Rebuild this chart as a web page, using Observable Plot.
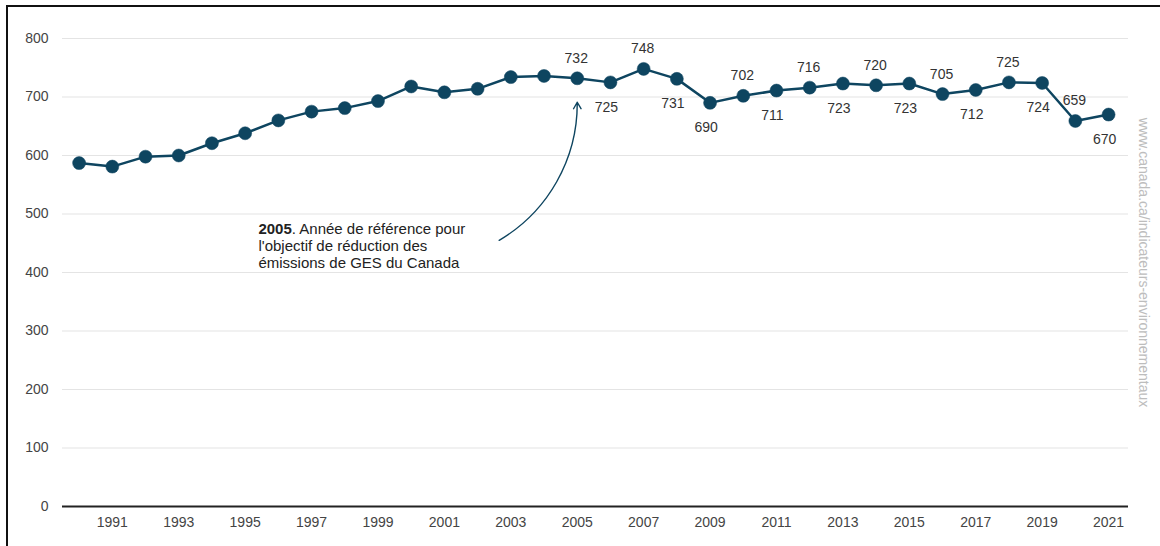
<!DOCTYPE html>
<html>
<head>
<meta charset="utf-8">
<script src="https://cdn.jsdelivr.net/npm/d3@7"></script>
<script src="https://cdn.jsdelivr.net/npm/@observablehq/plot@0.6"></script>
<style>
  html, body { margin: 0; padding: 0; background: #fff; }
  #wrap { position: relative; width: 1160px; height: 546px; overflow: hidden; }
  #frame { position: absolute; left: 6px; top: 5px; width: 1160px; height: 560px;
           border-top: 2px solid #111; border-left: 2px solid #111; pointer-events: none; }
  #chart { position: absolute; left: 0; top: 0; }
</style>
</head>
<body>
<div id="wrap"><div id="chart"></div><div id="frame"></div></div>
<script>
// Data (Mt éq. CO2)
const years = d3.range(1990, 2022);
const emissions = [587, 581, 598, 600, 621, 638, 660, 675, 681, 693, 718, 708, 714, 734, 736,
                   732, 725, 748, 731, 690, 702, 711, 716, 723, 720, 723, 705, 712, 725, 724, 659, 670];
const labelsAbove = [2005, 2007, 2010, 2012, 2014, 2016, 2018, 2020];
const labelsBelow = [2006, 2008, 2009, 2011, 2013, 2015, 2017, 2019, 2021];
const yTicks = [0, 100, 200, 300, 400, 500, 600, 700, 800];
const xTicks = d3.range(1991, 2022, 2);
const annotationText = "2005. Année de référence pour\nl'objectif de réduction des\némissions de GES du Canada";
const annotationPos = [{x: 1995.4, y: 446}];
const arrowPos = [{x1: 2002.65, y1: 455, x2: 2005, y2: 691}];
const sourceText = "www.canada.ca/indicateurs-environnementaux";

const data = years.map((year, i) => ({year, value: emissions[i]}));
const above = data.filter(d => labelsAbove.includes(d.year));
const below = data.filter(d => labelsBelow.includes(d.year));

const color = "#0e4560";

const chart = Plot.plot({
  width: 1160,
  height: 546,
  marginTop: 38,
  marginBottom: 40,
  marginLeft: 62,
  marginRight: 32,
  style: {fontFamily: "'Liberation Sans', Arial, sans-serif", fontSize: "14px", color: "#444", background: "transparent"},
  x: {domain: [1989.5, 2021.6], ticks: xTicks, tickFormat: d => String(d), tickSize: 0, tickPadding: 11, label: null},
  y: {domain: [0, 800], ticks: yTicks, tickSize: 0, tickPadding: 14, label: null},
  marks: [
    Plot.gridY(yTicks.filter(d => d > 0), {stroke: "#e4e4e4", strokeOpacity: 1, strokeWidth: 1.2}),
    Plot.ruleY([0], {stroke: "#222", strokeWidth: 2.2}),
    Plot.line(data, {x: "year", y: "value", stroke: color, strokeWidth: 2.5}),
    Plot.dot(data, {x: "year", y: "value", r: 6.5, fill: color, stroke: color, strokeWidth: 0.5}),
    Plot.text(above, {x: "year", y: "value", text: d => String(d.value), dy: -20, dx: -1, fill: "#333", fontSize: 14}),
    Plot.text(below, {x: "year", y: "value", text: d => String(d.value), dy: 25, dx: -4, fill: "#333", fontSize: 14}),
    Plot.arrow(arrowPos, {x1: "x1", y1: "y1", x2: "x2", y2: "y2", bend: -30, stroke: color, strokeWidth: 1.4, headLength: 8}),
    Plot.text(annotationPos, {x: "x", y: "y", text: () => annotationText, textAnchor: "start", lineAnchor: "middle", lineHeight: 1.13, fill: "#222", fontSize: 15}),
    Plot.text([sourceText], {frameAnchor: "right", textAnchor: "middle", dx: 15, dy: -10, rotate: 90, fill: "#bdbdbd", fontSize: 14})
  ]
});

// Bold "2005" in the annotation
d3.select(chart).selectAll("tspan").each(function() {
  const t = this.textContent;
  if (t.startsWith("2005. Année")) {
    const s = d3.select(this);
    s.text("");
    s.append("tspan").attr("font-weight", "bold").text("2005");
    s.append("tspan").text(t.slice(4));
  }
});

document.getElementById("chart").appendChild(chart);
</script>
</body>
</html>
